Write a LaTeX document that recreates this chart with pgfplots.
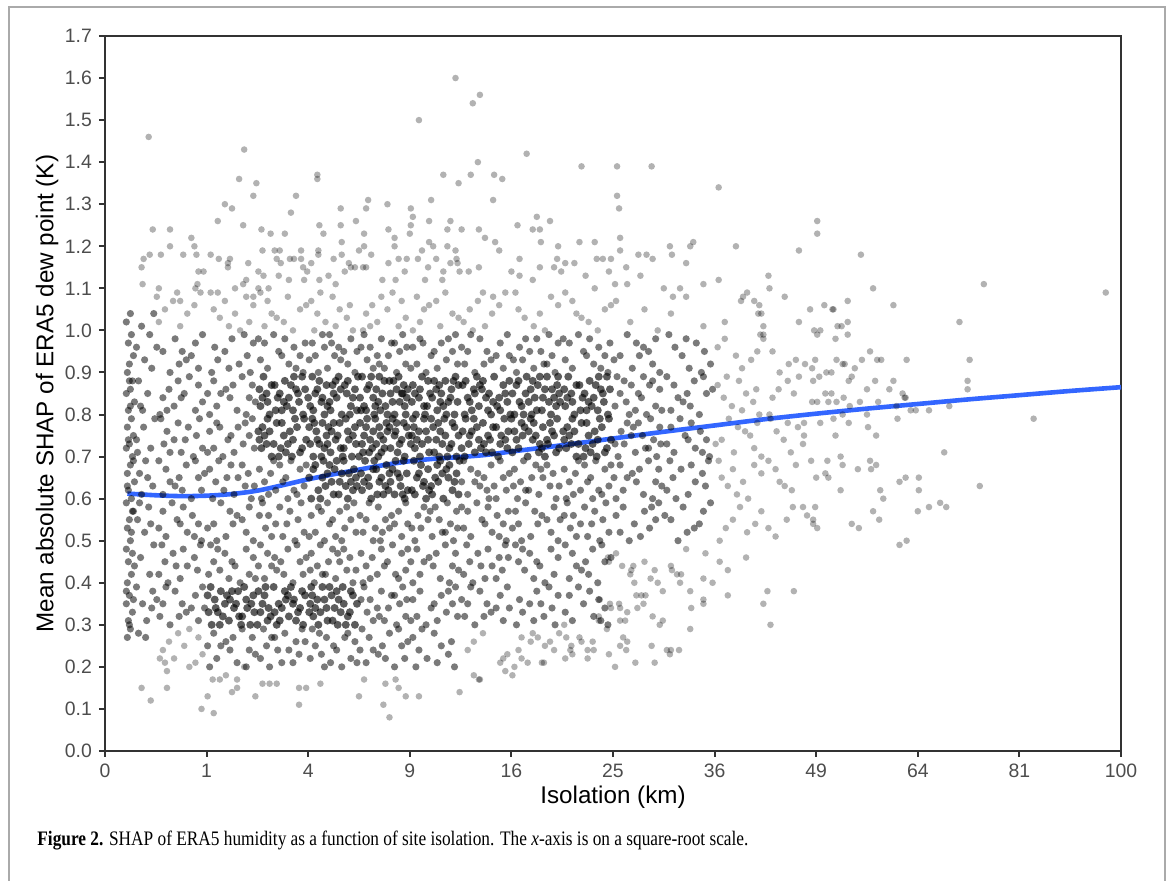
\documentclass[border=0pt]{standalone}
\usepackage{pgfplots}
\pgfplotsset{compat=1.18}
\usepackage{pgfplotstable}
\usepackage{graphicx}
\usepackage{fontspec}
\setmainfont{Liberation Serif}
\setsansfont{Liberation Sans}

\definecolor{axgrey}{HTML}{333333}
\definecolor{tickgrey}{HTML}{4D4D4D}
\definecolor{smoothblue}{HTML}{3366FF}
\definecolor{framegrey}{HTML}{AAAAAA}

% x = sqrt(isolation in km), y = mean |SHAP| (K)
% dense core of the cloud
\pgfplotstableread{
x y
1.46 0.37
1.32 0.32
1.18 0.35
1.05 0.30
1.40 0.34
1.25 0.38
1.11 0.33
1.37 0.39
1.22 0.31
1.08 0.36
1.43 0.30
1.29 0.35
1.14 0.38
1.02 0.33
1.35 0.32
1.20 0.37
1.47 0.33
1.13 0.30
1.27 0.34
1.04 0.39
1.39 0.36
1.16 0.32
1.31 0.38
1.09 0.34
1.44 0.35
1.23 0.36
1.01 0.37
1.34 0.30
1.92 0.34
1.77 0.38
1.60 0.31
1.86 0.36
1.53 0.33
1.71 0.35
1.95 0.30
1.66 0.39
1.81 0.32
1.57 0.37
1.88 0.31
1.74 0.34
1.51 0.38
1.97 0.37
1.63 0.32
1.83 0.39
1.69 0.30
1.55 0.35
1.90 0.33
1.78 0.36
1.61 0.34
1.72 0.31
1.85 0.35
1.50 0.30
1.94 0.38
1.67 0.33
1.80 0.37
1.58 0.39
1.89 0.77
1.73 0.72
1.57 0.75
1.96 0.79
1.80 0.73
1.64 0.70
1.51 0.76
1.85 0.74
1.69 0.78
1.92 0.71
1.76 0.75
1.60 0.79
1.54 0.72
1.98 0.74
1.82 0.76
1.66 0.73
1.71 0.70
1.87 0.79
1.55 0.77
1.78 0.71
1.62 0.76
1.94 0.72
1.52 0.74
1.74 0.78
1.84 0.70
1.59 0.73
1.53 0.82
1.67 0.87
1.81 0.84
1.94 0.89
1.59 0.85
1.74 0.81
1.88 0.86
1.62 0.80
1.77 0.88
1.91 0.83
1.56 0.89
1.70 0.84
1.85 0.81
1.97 0.86
1.64 0.87
1.79 0.82
1.52 0.86
1.86 0.89
1.72 0.85
1.95 0.80
1.60 0.83
1.83 0.87
1.68 0.81
1.90 0.85
1.55 0.84
1.76 0.83
2.39 0.32
2.23 0.37
2.07 0.34
2.46 0.30
2.30 0.36
2.14 0.39
2.01 0.33
2.35 0.35
2.19 0.31
2.42 0.38
2.26 0.34
2.10 0.30
2.04 0.37
2.48 0.35
2.32 0.33
2.16 0.36
2.21 0.39
2.37 0.30
2.05 0.32
2.28 0.38
2.12 0.33
2.44 0.37
2.02 0.35
2.24 0.31
2.34 0.39
2.09 0.36
2.18 0.34
2.41 0.33
2.29 0.30
2.03 0.39
2.10 0.62
2.26 0.67
2.42 0.64
2.03 0.60
2.19 0.66
2.35 0.69
2.48 0.63
2.14 0.65
2.30 0.61
2.07 0.68
2.23 0.64
2.39 0.60
2.45 0.67
2.01 0.65
2.17 0.63
2.33 0.66
2.28 0.69
2.12 0.60
2.44 0.62
2.21 0.68
2.37 0.63
2.05 0.67
2.47 0.65
2.25 0.61
2.15 0.69
2.40 0.66
2.31 0.64
2.46 0.77
2.32 0.72
2.18 0.75
2.05 0.70
2.40 0.74
2.25 0.78
2.11 0.73
2.37 0.79
2.22 0.71
2.08 0.76
2.43 0.70
2.29 0.75
2.14 0.78
2.02 0.73
2.35 0.72
2.20 0.77
2.47 0.73
2.13 0.70
2.27 0.74
2.04 0.79
2.39 0.76
2.16 0.72
2.31 0.78
2.09 0.74
2.44 0.75
2.23 0.76
2.01 0.77
2.34 0.70
2.19 0.73
2.06 0.78
2.07 0.85
2.22 0.81
2.39 0.88
2.13 0.83
2.46 0.86
2.28 0.84
2.04 0.89
2.33 0.80
2.18 0.87
2.42 0.82
2.11 0.88
2.25 0.85
2.48 0.81
2.02 0.82
2.36 0.87
2.16 0.80
2.30 0.89
2.44 0.84
2.09 0.86
2.21 0.83
2.38 0.85
2.27 0.88
2.14 0.84
2.49 0.89
2.05 0.81
2.32 0.86
2.19 0.82
2.41 0.80
2.24 0.87
2.00 0.84
2.53 0.62
2.67 0.67
2.81 0.64
2.94 0.69
2.59 0.65
2.74 0.61
2.88 0.66
2.62 0.60
2.77 0.68
2.91 0.63
2.56 0.69
2.70 0.64
2.85 0.61
2.97 0.66
2.64 0.67
2.79 0.62
2.52 0.66
2.86 0.69
2.72 0.65
2.95 0.60
2.60 0.63
2.83 0.67
2.68 0.61
2.90 0.65
2.55 0.64
2.76 0.63
2.98 0.62
2.65 0.69
2.80 0.66
2.93 0.61
2.92 0.74
2.77 0.78
2.60 0.71
2.86 0.76
2.53 0.73
2.71 0.75
2.95 0.70
2.66 0.79
2.81 0.72
2.57 0.77
2.88 0.71
2.74 0.74
2.51 0.78
2.97 0.77
2.63 0.72
2.83 0.79
2.69 0.70
2.55 0.75
2.90 0.73
2.78 0.76
2.61 0.74
2.72 0.71
2.85 0.75
2.50 0.70
2.94 0.78
2.67 0.73
2.80 0.77
2.58 0.79
2.75 0.72
2.99 0.75
2.64 0.76
2.87 0.78
2.54 0.71
2.70 0.77
2.60 0.87
2.76 0.82
2.92 0.85
2.53 0.89
2.69 0.83
2.85 0.80
2.98 0.86
2.64 0.84
2.80 0.88
2.57 0.81
2.73 0.85
2.89 0.89
2.95 0.82
2.51 0.84
2.67 0.86
2.83 0.83
2.78 0.80
2.62 0.89
2.94 0.87
2.71 0.81
2.87 0.86
2.55 0.82
2.97 0.84
2.75 0.88
2.65 0.80
2.90 0.83
2.81 0.85
2.58 0.86
2.70 0.89
2.96 0.80
2.52 0.81
2.84 0.88
2.66 0.82
2.93 0.85
3.07 0.65
3.22 0.61
3.39 0.68
3.13 0.63
3.46 0.66
3.28 0.64
3.04 0.69
3.33 0.60
3.18 0.67
3.42 0.62
3.11 0.68
3.25 0.65
3.48 0.61
3.02 0.62
3.36 0.67
3.16 0.60
3.30 0.69
3.44 0.64
3.09 0.66
3.21 0.63
3.38 0.65
3.27 0.68
3.14 0.64
3.49 0.69
3.05 0.61
3.32 0.66
3.19 0.62
3.39 0.72
3.23 0.77
3.07 0.74
3.46 0.70
3.30 0.76
3.14 0.79
3.01 0.73
3.35 0.75
3.19 0.71
3.42 0.78
3.26 0.74
3.10 0.70
3.04 0.77
3.48 0.75
3.32 0.73
3.16 0.76
3.21 0.79
3.37 0.70
3.05 0.72
3.28 0.78
3.12 0.73
3.44 0.77
3.02 0.75
3.24 0.71
3.34 0.79
3.09 0.76
3.18 0.74
3.41 0.73
3.29 0.70
3.03 0.79
3.03 0.87
3.17 0.82
3.31 0.85
3.44 0.80
3.09 0.84
3.24 0.88
3.38 0.83
3.12 0.89
3.27 0.81
3.41 0.86
3.06 0.80
3.20 0.85
3.35 0.88
3.47 0.83
3.14 0.82
3.29 0.87
3.02 0.83
3.36 0.80
3.22 0.84
3.45 0.89
3.10 0.86
3.33 0.82
3.18 0.88
3.40 0.84
3.05 0.85
3.26 0.86
3.48 0.87
3.15 0.80
3.30 0.83
3.43 0.88
3.96 0.72
3.82 0.77
3.68 0.74
3.55 0.79
3.90 0.75
3.75 0.71
3.61 0.76
3.87 0.70
3.72 0.78
3.58 0.73
3.93 0.79
3.79 0.74
3.64 0.71
3.52 0.76
3.85 0.77
3.70 0.72
3.97 0.76
3.63 0.79
3.77 0.75
3.54 0.70
3.89 0.73
3.66 0.77
3.81 0.71
3.59 0.75
3.94 0.74
3.73 0.73
3.51 0.72
3.57 0.84
3.72 0.88
3.89 0.81
3.63 0.86
3.96 0.83
3.78 0.85
3.54 0.80
3.83 0.89
3.68 0.82
3.92 0.87
3.61 0.81
3.75 0.84
3.98 0.88
3.52 0.87
3.86 0.82
3.66 0.89
3.80 0.80
3.94 0.85
3.59 0.83
3.71 0.86
3.88 0.84
3.77 0.81
3.64 0.85
3.99 0.80
3.55 0.88
3.82 0.83
3.69 0.87
4.42 0.75
4.27 0.71
4.10 0.78
4.36 0.73
4.03 0.76
4.21 0.74
4.45 0.79
4.16 0.70
4.31 0.77
4.07 0.72
4.38 0.78
4.24 0.75
4.01 0.71
4.47 0.72
4.13 0.77
4.33 0.70
4.19 0.79
4.05 0.74
4.40 0.76
4.28 0.73
4.11 0.75
4.22 0.78
4.35 0.74
4.00 0.79
4.44 0.71
4.17 0.76
4.30 0.72
4.10 0.82
4.26 0.87
4.42 0.84
4.03 0.80
4.19 0.86
4.35 0.89
4.48 0.83
4.14 0.85
4.30 0.81
4.07 0.88
4.23 0.84
4.39 0.80
4.45 0.87
4.01 0.85
4.17 0.83
4.33 0.86
4.28 0.89
4.12 0.80
4.44 0.82
4.21 0.88
4.37 0.83
4.05 0.87
4.47 0.85
4.25 0.81
4.15 0.89
4.40 0.86
4.31 0.84
4.08 0.83
4.20 0.80
4.46 0.89
4.89 0.77
4.73 0.72
4.57 0.75
4.96 0.79
4.80 0.73
4.64 0.70
4.51 0.76
4.85 0.74
4.69 0.78
4.92 0.71
4.76 0.75
4.60 0.79
4.54 0.72
4.98 0.74
4.82 0.76
4.66 0.73
4.71 0.70
4.87 0.79
4.55 0.77
4.78 0.71
4.62 0.76
4.94 0.72
4.52 0.74
4.74 0.78
4.84 0.70
4.59 0.73
4.53 0.82
4.67 0.87
4.81 0.84
4.94 0.89
4.59 0.85
4.74 0.81
4.88 0.86
4.62 0.80
4.77 0.88
4.91 0.83
4.56 0.89
4.70 0.84
4.85 0.81
4.97 0.86
4.64 0.87
4.79 0.82
4.52 0.86
4.86 0.89
4.72 0.85
4.95 0.80
4.60 0.83
4.83 0.87
4.68 0.81
4.90 0.85
4.55 0.84
4.76 0.83
}\densepts

% medium-density part of the cloud
\pgfplotstableread{
x y
0.22 0.27
0.25 0.29
0.23 0.31
0.27 0.33
0.21 0.35
0.24 0.37
0.28 0.36
0.22 0.40
0.26 0.42
0.23 0.45
0.29 0.44
0.21 0.48
0.25 0.50
0.27 0.47
0.22 0.53
0.24 0.55
0.28 0.57
0.21 0.59
0.26 0.60
0.23 0.62
0.29 0.64
0.22 0.66
0.25 0.68
0.27 0.70
0.21 0.72
0.24 0.73
0.28 0.75
0.22 0.77
0.26 0.79
0.23 0.81
0.29 0.83
0.21 0.85
0.25 0.86
0.27 0.88
0.22 0.90
0.24 0.92
0.28 0.94
0.23 0.97
0.26 0.99
0.21 1.02
0.25 1.04
0.24 0.30
0.26 0.52
0.22 0.63
0.28 0.69
0.23 0.74
0.25 0.82
0.21 0.38
0.27 0.57
0.24 0.88
0.33 0.28
0.41 0.31
0.37 0.35
0.46 0.34
0.31 0.39
0.44 0.42
0.35 0.46
0.48 0.49
0.39 0.52
0.32 0.55
0.43 0.58
0.36 0.61
0.47 0.63
0.34 0.66
0.40 0.69
0.45 0.72
0.31 0.74
0.38 0.77
0.49 0.79
0.35 0.82
0.42 0.85
0.33 0.88
0.46 0.91
0.39 0.93
0.31 0.96
0.44 0.99
0.36 1.01
0.48 1.04
0.40 0.27
0.34 0.59
0.47 0.38
0.42 0.65
0.37 0.81
0.45 0.54
0.32 0.71
0.53 0.42
0.67 0.47
0.81 0.44
0.94 0.49
0.59 0.45
0.74 0.41
0.88 0.46
0.62 0.40
0.77 0.48
0.91 0.43
0.56 0.49
0.70 0.44
0.92 0.54
0.77 0.58
0.60 0.51
0.86 0.56
0.53 0.53
0.71 0.55
0.95 0.50
0.66 0.59
0.81 0.52
0.57 0.57
0.88 0.51
0.74 0.54
0.60 0.67
0.76 0.62
0.92 0.65
0.53 0.69
0.69 0.63
0.85 0.60
0.98 0.66
0.64 0.64
0.80 0.68
0.57 0.61
0.73 0.65
0.89 0.69
0.95 0.62
0.96 0.72
0.82 0.77
0.68 0.74
0.55 0.79
0.90 0.75
0.75 0.71
0.61 0.76
0.87 0.70
0.72 0.78
0.58 0.73
0.93 0.79
0.79 0.74
0.64 0.71
0.57 0.84
0.72 0.88
0.89 0.81
0.63 0.86
0.96 0.83
0.78 0.85
0.54 0.80
0.83 0.89
0.68 0.82
0.92 0.87
0.61 0.81
0.75 0.84
0.89 0.97
0.73 0.92
0.57 0.95
0.96 0.99
0.80 0.93
0.64 0.90
0.51 0.96
0.85 0.94
0.69 0.98
0.92 0.91
0.76 0.95
0.89 0.37
0.73 0.32
0.57 0.35
0.96 0.39
0.80 0.33
0.64 0.30
0.51 0.36
0.85 0.34
0.69 0.38
0.92 0.31
0.76 0.35
0.60 0.39
0.54 0.32
0.98 0.34
1.10 0.22
1.26 0.27
1.42 0.24
1.03 0.20
1.19 0.26
1.35 0.29
1.48 0.23
1.14 0.25
1.30 0.21
1.07 0.28
1.23 0.24
1.39 0.20
1.45 0.27
1.01 0.25
1.07 0.45
1.22 0.41
1.39 0.48
1.13 0.43
1.46 0.46
1.28 0.44
1.04 0.49
1.33 0.40
1.18 0.47
1.42 0.42
1.11 0.48
1.25 0.45
1.48 0.41
1.02 0.42
1.39 0.52
1.23 0.57
1.07 0.54
1.46 0.50
1.30 0.56
1.14 0.59
1.01 0.53
1.35 0.55
1.19 0.51
1.42 0.58
1.26 0.54
1.10 0.50
1.03 0.67
1.17 0.62
1.31 0.65
1.44 0.60
1.09 0.64
1.24 0.68
1.38 0.63
1.12 0.69
1.27 0.61
1.41 0.66
1.06 0.60
1.20 0.65
1.35 0.68
1.47 0.63
1.42 0.75
1.27 0.71
1.10 0.78
1.36 0.73
1.03 0.76
1.21 0.74
1.45 0.79
1.16 0.70
1.31 0.77
1.07 0.72
1.38 0.78
1.24 0.75
1.01 0.71
1.47 0.72
1.13 0.77
1.10 0.82
1.26 0.87
1.42 0.84
1.03 0.80
1.19 0.86
1.35 0.89
1.48 0.83
1.14 0.85
1.30 0.81
1.07 0.88
1.23 0.84
1.39 0.80
1.45 0.87
1.01 0.85
1.46 0.97
1.32 0.92
1.18 0.95
1.05 0.90
1.40 0.94
1.25 0.98
1.11 0.93
1.37 0.99
1.22 0.91
1.08 0.96
1.43 0.90
1.53 0.22
1.67 0.27
1.81 0.24
1.94 0.29
1.59 0.25
1.74 0.21
1.88 0.26
1.62 0.20
1.77 0.28
1.91 0.23
1.56 0.29
1.70 0.24
1.85 0.21
1.97 0.26
1.64 0.27
1.60 0.47
1.76 0.42
1.92 0.45
1.53 0.49
1.69 0.43
1.85 0.40
1.98 0.46
1.64 0.44
1.80 0.48
1.57 0.41
1.73 0.45
1.89 0.49
1.95 0.42
1.51 0.44
1.67 0.46
1.96 0.52
1.82 0.57
1.68 0.54
1.55 0.59
1.90 0.55
1.75 0.51
1.61 0.56
1.87 0.50
1.72 0.58
1.58 0.53
1.93 0.59
1.79 0.54
1.64 0.51
1.52 0.56
1.57 0.64
1.72 0.68
1.89 0.61
1.63 0.66
1.96 0.63
1.78 0.65
1.54 0.60
1.83 0.69
1.68 0.62
1.92 0.67
1.61 0.61
1.75 0.64
1.98 0.68
1.52 0.67
1.86 0.62
1.66 0.69
1.80 0.60
1.92 0.94
1.77 0.98
1.60 0.91
1.86 0.96
1.53 0.93
1.71 0.95
1.95 0.90
1.66 0.99
1.81 0.92
1.57 0.97
1.88 0.91
1.74 0.94
1.51 0.98
1.97 0.97
2.07 0.25
2.22 0.21
2.39 0.28
2.13 0.23
2.46 0.26
2.28 0.24
2.04 0.29
2.33 0.20
2.18 0.27
2.42 0.22
2.11 0.28
2.25 0.25
2.48 0.21
2.02 0.22
2.36 0.27
2.16 0.20
2.03 0.47
2.17 0.42
2.31 0.45
2.44 0.40
2.09 0.44
2.24 0.48
2.38 0.43
2.12 0.49
2.27 0.41
2.41 0.46
2.06 0.40
2.20 0.45
2.35 0.48
2.47 0.43
2.14 0.42
2.29 0.47
2.02 0.43
2.42 0.55
2.27 0.51
2.10 0.58
2.36 0.53
2.03 0.56
2.21 0.54
2.45 0.59
2.16 0.50
2.31 0.57
2.07 0.52
2.38 0.58
2.24 0.55
2.01 0.51
2.47 0.52
2.13 0.57
2.33 0.50
2.19 0.59
2.39 0.92
2.23 0.97
2.07 0.94
2.46 0.90
2.30 0.96
2.14 0.99
2.01 0.93
2.35 0.95
2.19 0.91
2.42 0.98
2.26 0.94
2.10 0.90
2.04 0.97
2.48 0.95
2.32 0.93
2.16 0.96
2.21 0.99
2.60 0.27
2.76 0.22
2.92 0.25
2.53 0.29
2.69 0.23
2.85 0.20
2.98 0.26
2.64 0.24
2.80 0.28
2.57 0.21
2.73 0.25
2.89 0.29
2.95 0.22
2.51 0.24
2.96 0.32
2.82 0.37
2.68 0.34
2.55 0.39
2.90 0.35
2.75 0.31
2.61 0.36
2.87 0.30
2.72 0.38
2.58 0.33
2.93 0.39
2.79 0.34
2.64 0.31
2.52 0.36
2.85 0.37
2.70 0.32
2.97 0.36
2.57 0.44
2.72 0.48
2.89 0.41
2.63 0.46
2.96 0.43
2.78 0.45
2.54 0.40
2.83 0.49
2.68 0.42
2.92 0.47
2.61 0.41
2.75 0.44
2.98 0.48
2.52 0.47
2.86 0.42
2.89 0.57
2.73 0.52
2.57 0.55
2.96 0.59
2.80 0.53
2.64 0.50
2.51 0.56
2.85 0.54
2.69 0.58
2.92 0.51
2.76 0.55
2.60 0.59
2.54 0.52
2.98 0.54
2.82 0.56
2.66 0.53
2.71 0.50
2.96 0.92
2.82 0.97
2.68 0.94
2.55 0.99
2.90 0.95
2.75 0.91
2.61 0.96
2.87 0.90
2.72 0.98
2.58 0.93
2.93 0.99
2.79 0.94
2.64 0.91
2.52 0.96
2.85 0.97
2.70 0.92
2.97 0.96
3.03 0.27
3.17 0.22
3.31 0.25
3.44 0.20
3.09 0.24
3.24 0.28
3.38 0.23
3.12 0.29
3.27 0.21
3.41 0.26
3.06 0.20
3.42 0.35
3.27 0.31
3.10 0.38
3.36 0.33
3.03 0.36
3.21 0.34
3.45 0.39
3.16 0.30
3.31 0.37
3.07 0.32
3.38 0.38
3.24 0.35
3.01 0.31
3.47 0.32
3.10 0.42
3.26 0.47
3.42 0.44
3.03 0.40
3.19 0.46
3.35 0.49
3.48 0.43
3.14 0.45
3.30 0.41
3.07 0.48
3.23 0.44
3.39 0.40
3.45 0.47
3.01 0.45
3.46 0.57
3.32 0.52
3.18 0.55
3.05 0.50
3.40 0.54
3.25 0.58
3.11 0.53
3.37 0.59
3.22 0.51
3.08 0.56
3.43 0.50
3.29 0.55
3.14 0.58
3.02 0.53
3.35 0.52
3.20 0.57
3.47 0.53
3.42 0.95
3.27 0.91
3.10 0.98
3.36 0.93
3.03 0.96
3.21 0.94
3.45 0.99
3.16 0.90
3.31 0.97
3.07 0.92
3.38 0.98
3.24 0.95
3.01 0.91
3.47 0.92
3.13 0.97
3.89 0.37
3.73 0.32
3.57 0.35
3.96 0.39
3.80 0.33
3.64 0.30
3.51 0.36
3.85 0.34
3.69 0.38
3.92 0.31
3.76 0.35
3.60 0.39
3.54 0.32
3.98 0.34
3.53 0.42
3.67 0.47
3.81 0.44
3.94 0.49
3.59 0.45
3.74 0.41
3.88 0.46
3.62 0.40
3.77 0.48
3.91 0.43
3.56 0.49
3.70 0.44
3.85 0.41
3.97 0.46
3.92 0.54
3.77 0.58
3.60 0.51
3.86 0.56
3.53 0.53
3.71 0.55
3.95 0.50
3.66 0.59
3.81 0.52
3.57 0.57
3.88 0.51
3.74 0.54
3.51 0.58
3.97 0.57
3.60 0.67
3.76 0.62
3.92 0.65
3.53 0.69
3.69 0.63
3.85 0.60
3.98 0.66
3.64 0.64
3.80 0.68
3.57 0.61
3.73 0.65
3.89 0.69
3.95 0.62
3.51 0.64
3.67 0.66
3.83 0.63
3.78 0.60
3.89 0.97
3.73 0.92
3.57 0.95
3.96 0.99
3.80 0.93
3.64 0.90
3.51 0.96
3.85 0.94
3.69 0.98
3.92 0.91
3.76 0.95
3.60 0.99
3.54 0.92
3.98 0.94
4.46 0.37
4.32 0.32
4.18 0.35
4.05 0.30
4.40 0.34
4.25 0.38
4.11 0.33
4.37 0.39
4.22 0.31
4.08 0.36
4.43 0.30
4.29 0.35
4.07 0.45
4.22 0.41
4.39 0.48
4.13 0.43
4.46 0.46
4.28 0.44
4.04 0.49
4.33 0.40
4.18 0.47
4.42 0.42
4.11 0.48
4.25 0.45
4.39 0.52
4.23 0.57
4.07 0.54
4.46 0.50
4.30 0.56
4.14 0.59
4.01 0.53
4.35 0.55
4.19 0.51
4.42 0.58
4.26 0.54
4.10 0.50
4.04 0.57
4.48 0.55
4.03 0.67
4.17 0.62
4.31 0.65
4.44 0.60
4.09 0.64
4.24 0.68
4.38 0.63
4.12 0.69
4.27 0.61
4.41 0.66
4.06 0.60
4.20 0.65
4.35 0.68
4.47 0.63
4.14 0.62
4.29 0.67
4.02 0.63
4.46 0.97
4.32 0.92
4.18 0.95
4.05 0.90
4.40 0.94
4.25 0.98
4.11 0.93
4.37 0.99
4.22 0.91
4.08 0.96
4.43 0.90
4.29 0.95
4.14 0.98
4.02 0.93
4.35 0.92
4.92 0.34
4.77 0.38
4.60 0.31
4.86 0.36
4.53 0.33
4.71 0.35
4.95 0.30
4.66 0.39
4.81 0.32
4.57 0.37
4.88 0.31
4.60 0.47
4.76 0.42
4.92 0.45
4.53 0.49
4.69 0.43
4.85 0.40
4.98 0.46
4.64 0.44
4.80 0.48
4.57 0.41
4.73 0.45
4.89 0.49
4.96 0.52
4.82 0.57
4.68 0.54
4.55 0.59
4.90 0.55
4.75 0.51
4.61 0.56
4.87 0.50
4.72 0.58
4.58 0.53
4.93 0.59
4.79 0.54
4.64 0.51
4.52 0.56
4.57 0.64
4.72 0.68
4.89 0.61
4.63 0.66
4.96 0.63
4.78 0.65
4.54 0.60
4.83 0.69
4.68 0.62
4.92 0.67
4.61 0.61
4.75 0.64
4.98 0.68
4.52 0.67
4.86 0.62
4.66 0.69
4.80 0.60
4.92 0.94
4.77 0.98
4.60 0.91
4.86 0.96
4.53 0.93
4.71 0.95
4.95 0.90
4.66 0.99
4.81 0.92
4.57 0.97
4.88 0.91
4.74 0.94
4.51 0.98
4.97 0.97
5.42 0.55
5.27 0.51
5.10 0.58
5.36 0.53
5.03 0.56
5.21 0.54
5.45 0.59
5.16 0.50
5.31 0.57
5.07 0.52
5.38 0.58
5.10 0.62
5.26 0.67
5.42 0.64
5.03 0.60
5.19 0.66
5.35 0.69
5.48 0.63
5.14 0.65
5.30 0.61
5.07 0.68
5.23 0.64
5.39 0.60
5.45 0.67
5.01 0.65
5.46 0.77
5.32 0.72
5.18 0.75
5.05 0.70
5.40 0.74
5.25 0.78
5.11 0.73
5.37 0.79
5.22 0.71
5.08 0.76
5.43 0.70
5.29 0.75
5.14 0.78
5.02 0.73
5.35 0.72
5.20 0.77
5.47 0.73
5.07 0.85
5.22 0.81
5.39 0.88
5.13 0.83
5.46 0.86
5.28 0.84
5.04 0.89
5.33 0.80
5.18 0.87
5.42 0.82
5.11 0.88
5.25 0.85
5.48 0.81
5.02 0.82
5.36 0.87
5.16 0.80
5.30 0.89
5.39 0.92
5.23 0.97
5.07 0.94
5.46 0.90
5.30 0.96
5.14 0.99
5.01 0.93
5.35 0.95
5.19 0.91
5.42 0.98
5.26 0.94
5.89 0.57
5.73 0.52
5.57 0.55
5.96 0.59
5.80 0.53
5.64 0.50
5.51 0.56
5.85 0.54
5.69 0.58
5.53 0.62
5.67 0.67
5.81 0.64
5.94 0.69
5.59 0.65
5.74 0.61
5.88 0.66
5.62 0.60
5.77 0.68
5.91 0.63
5.56 0.69
5.92 0.74
5.77 0.78
5.60 0.71
5.86 0.76
5.53 0.73
5.71 0.75
5.95 0.70
5.66 0.79
5.81 0.72
5.57 0.77
5.88 0.71
5.74 0.74
5.60 0.87
5.76 0.82
5.92 0.85
5.53 0.89
5.69 0.83
5.85 0.80
5.98 0.86
5.64 0.84
5.80 0.88
5.57 0.81
5.73 0.85
5.89 0.89
5.96 0.92
5.82 0.97
5.68 0.94
5.55 0.99
5.90 0.95
5.75 0.91
5.61 0.96
5.87 0.90
5.72 0.98
}\midpts

% sparse outskirts and single points
\pgfplotstableread{
x y
0.57 0.24
0.72 0.28
0.89 0.21
0.63 0.26
0.96 0.23
0.78 0.25
0.54 0.22
0.83 0.29
0.68 0.22
0.92 0.27
0.53 1.02
0.67 1.07
0.81 1.04
0.94 1.09
0.59 1.05
0.74 1.01
0.88 1.06
0.92 1.14
0.77 1.18
1.07 1.05
1.22 1.01
1.39 1.08
1.13 1.03
1.46 1.06
1.28 1.04
1.04 1.09
1.33 1.00
1.18 1.07
1.42 1.02
1.39 1.12
1.23 1.17
1.60 1.07
1.76 1.02
1.92 1.05
1.53 1.09
1.69 1.03
1.85 1.00
1.98 1.06
1.64 1.04
1.80 1.08
1.57 1.01
1.96 1.12
1.82 1.17
2.03 1.07
2.17 1.02
2.31 1.05
2.44 1.00
2.09 1.04
2.24 1.08
2.38 1.03
2.12 1.09
2.27 1.01
2.41 1.06
2.06 1.00
2.57 1.04
2.72 1.08
2.89 1.01
2.63 1.06
2.96 1.03
2.78 1.05
2.54 1.00
2.83 1.09
2.68 1.02
2.92 1.07
2.61 1.01
3.10 1.02
3.26 1.07
3.42 1.04
3.03 1.00
3.19 1.06
3.35 1.09
3.48 1.03
3.14 1.05
3.30 1.01
3.07 1.08
2.42 1.15
2.27 1.11
2.10 1.18
2.89 1.17
2.73 1.12
2.57 1.15
3.46 1.17
3.32 1.12
3.18 1.15
3.57 0.24
3.72 0.28
3.89 0.21
3.63 0.26
3.96 0.23
3.53 1.02
3.67 1.07
3.81 1.04
3.94 1.09
3.59 1.05
3.74 1.01
3.88 1.06
3.62 1.00
4.10 0.22
4.26 0.27
4.42 0.24
4.03 0.20
4.19 0.26
4.07 1.05
4.22 1.01
4.39 1.08
4.13 1.03
4.46 1.06
4.28 1.04
4.04 1.09
4.33 1.00
4.53 0.22
4.67 0.27
4.81 0.24
4.94 0.29
4.59 0.25
4.60 1.07
4.76 1.02
4.92 1.05
4.53 1.09
4.69 1.03
4.85 1.00
4.98 1.06
4.64 1.04
5.07 0.25
5.22 0.21
5.39 0.32
5.23 0.37
5.07 0.34
5.46 0.30
5.03 0.47
5.17 0.42
5.31 0.45
5.44 0.40
5.09 0.44
5.03 1.07
5.17 1.02
5.31 1.05
5.44 1.00
5.57 0.44
5.72 0.48
5.89 0.41
5.57 1.04
5.72 1.08
5.89 1.01
6.46 0.57
6.32 0.52
6.18 0.55
6.05 0.50
6.40 0.54
6.25 0.58
6.11 0.53
6.07 0.65
6.22 0.61
6.39 0.68
6.13 0.63
6.46 0.66
6.28 0.64
6.04 0.69
6.33 0.60
6.18 0.67
6.39 0.72
6.23 0.77
6.07 0.74
6.46 0.70
6.30 0.76
6.14 0.79
6.01 0.73
6.35 0.75
6.19 0.71
6.42 0.78
6.03 0.87
6.17 0.82
6.31 0.85
6.44 0.80
6.09 0.84
6.24 0.88
6.38 0.83
6.12 0.89
6.27 0.81
6.41 0.86
6.42 0.95
6.27 0.91
6.10 0.98
6.36 0.93
6.03 0.96
6.21 0.94
6.45 0.99
6.10 1.02
6.26 1.07
6.77 0.58
6.60 0.51
6.53 0.53
6.71 0.55
6.60 0.67
6.76 0.62
6.53 0.69
6.69 0.63
6.64 0.64
6.80 0.68
6.82 0.77
6.68 0.74
6.55 0.79
6.75 0.71
6.61 0.76
6.72 0.78
6.57 0.84
6.72 0.88
6.63 0.86
6.78 0.85
6.54 0.80
6.83 0.89
6.73 0.92
6.57 0.95
6.80 0.93
6.64 0.90
0.43 1.46
1.37 1.43
3.45 1.60
3.69 1.56
3.62 1.54
3.09 1.50
2.09 1.37
2.09 1.36
1.32 1.36
1.49 1.35
3.33 1.37
3.48 1.35
3.60 1.37
3.67 1.40
3.83 1.37
1.46 1.32
1.88 1.32
2.59 1.31
3.21 1.31
1.18 1.30
1.25 1.29
1.83 1.28
1.11 1.26
1.36 1.25
2.11 1.25
2.32 1.29
2.78 1.30
3.01 1.29
3.82 1.31
0.47 1.24
0.64 1.24
2.47 1.26
3.19 1.26
3.40 1.26
3.68 1.24
2.79 1.24
1.54 1.24
1.63 1.23
1.77 1.23
2.15 1.23
2.55 1.23
3.00 1.23
3.51 1.24
0.85 1.22
0.88 1.20
0.64 1.20
2.85 1.22
3.74 1.22
0.36 1.15
0.38 1.17
0.44 1.18
0.55 1.18
0.37 1.11
0.53 1.10
0.51 1.08
0.71 1.09
0.90 1.18
1.04 1.18
1.12 1.17
1.21 1.16
1.21 1.15
0.97 1.14
0.89 1.10
0.91 1.11
1.11 1.09
0.74 1.07
1.28 1.10
1.36 1.11
1.41 1.16
1.51 1.14
1.56 1.13
1.61 1.10
1.55 1.19
1.67 1.19
1.72 1.19
1.69 1.17
1.73 1.16
1.51 1.10
1.46 1.08
1.71 1.13
1.81 1.12
1.86 1.17
1.93 1.17
1.93 1.19
2.03 1.16
1.95 1.15
1.99 1.14
2.10 1.19
2.11 1.12
2.20 1.13
2.25 1.17
2.32 1.25
2.33 1.21
2.33 1.18
2.36 1.14
2.40 1.16
2.46 1.15
2.54 1.15
2.50 1.19
2.55 1.20
2.62 1.18
2.57 1.29
2.79 1.16
2.86 1.12
2.85 1.20
2.97 1.17
2.95 1.14
3.01 1.25
3.03 1.27
3.08 1.17
3.12 1.19
3.15 1.12
3.19 1.21
3.23 1.20
3.26 1.17
3.37 1.20
3.37 1.24
3.45 1.19
3.40 1.16
3.47 1.16
3.49 1.14
3.58 1.14
3.33 1.14
3.68 1.15
4.15 1.42
4.69 1.39
5.04 1.39
5.38 1.39
6.04 1.34
3.91 1.36
5.04 1.32
5.06 1.29
7.01 1.26
7.01 1.23
4.25 1.27
4.38 1.26
4.06 1.25
4.21 1.24
4.28 1.24
4.29 1.21
4.46 1.20
4.67 1.21
4.82 1.21
5.07 1.22
5.07 1.19
5.56 1.20
5.76 1.20
5.79 1.21
6.21 1.20
6.83 1.19
4.45 1.17
4.84 1.17
4.90 1.17
4.98 1.17
5.25 1.18
5.33 1.18
5.39 1.17
5.58 1.18
5.72 1.16
4.53 1.16
4.62 1.16
4.08 1.17
3.88 1.19
3.84 1.21
6.53 1.13
6.04 1.12
5.89 1.11
5.66 1.10
5.50 1.10
5.59 1.08
6.54 1.10
6.69 1.08
6.32 1.09
6.28 1.08
7.08 1.06
6.94 1.05
6.83 1.02
6.98 1.00
7.04 1.00
6.39 1.07
6.44 1.06
6.43 1.04
6.46 1.04
6.48 1.01
6.48 0.99
6.48 0.98
3.72 1.09
3.82 1.08
4.00 1.14
4.08 1.13
4.21 1.12
4.28 1.15
4.42 1.15
4.49 1.14
4.73 1.13
4.82 1.10
4.96 1.14
5.13 1.15
5.27 1.13
5.14 1.11
5.02 1.11
7.44 1.18
8.65 1.11
9.85 1.09
7.56 1.10
7.31 1.07
7.76 1.06
7.17 1.05
7.16 1.05
7.21 1.01
7.25 1.01
7.31 1.02
7.31 0.99
8.41 1.02
7.01 0.99
7.19 0.98
7.53 0.95
6.89 0.92
6.96 0.91
6.99 0.93
7.20 0.93
7.26 0.92
7.28 0.92
7.38 0.91
7.45 0.93
7.60 0.93
7.64 0.93
7.89 0.93
8.51 0.93
7.10 0.90
7.15 0.90
6.97 0.88
7.03 0.89
7.35 0.89
7.32 0.88
7.58 0.88
7.50 0.86
7.76 0.88
7.72 0.86
7.85 0.85
7.88 0.84
8.49 0.88
8.49 0.86
8.31 0.82
7.09 0.85
7.15 0.85
7.27 0.84
7.20 0.83
7.12 0.83
7.01 0.83
6.96 0.83
7.43 0.83
7.33 0.82
7.26 0.80
7.61 0.83
7.79 0.82
7.87 0.84
7.93 0.81
7.98 0.81
8.11 0.81
7.50 0.80
7.80 0.79
7.17 0.79
7.04 0.78
6.88 0.78
7.32 0.78
7.51 0.77
7.59 0.75
7.19 0.75
6.88 0.75
6.87 0.73
9.14 0.79
8.26 0.71
7.24 0.70
7.26 0.68
7.11 0.69
6.95 0.69
7.41 0.67
7.53 0.69
7.54 0.67
7.59 0.68
7.00 0.65
7.09 0.66
7.12 0.65
7.24 0.62
8.61 0.63
7.82 0.64
7.88 0.65
8.01 0.65
8.01 0.62
7.63 0.62
7.66 0.60
7.56 0.57
7.62 0.55
8.11 0.58
8.00 0.57
8.22 0.59
8.28 0.58
6.87 0.58
6.91 0.56
6.97 0.55
6.99 0.58
7.01 0.53
6.97 0.54
7.35 0.54
7.42 0.53
7.82 0.49
7.89 0.50
4.01 0.18
3.94 0.19
3.69 0.17
5.02 0.20
4.96 0.23
5.41 0.21
5.38 0.25
5.56 0.23
5.53 0.24
5.57 0.24
5.65 0.24
5.76 0.29
5.49 0.31
5.13 0.24
5.14 0.26
5.10 0.27
4.75 0.22
4.75 0.24
4.58 0.24
4.32 0.21
4.16 0.21
3.92 0.22
6.55 0.30
6.48 0.35
6.52 0.38
6.78 0.38
6.31 0.46
6.13 0.37
5.89 0.36
5.89 0.35
5.77 0.34
5.76 0.38
5.98 0.40
6.13 0.43
6.05 0.45
5.91 0.47
5.58 0.43
5.63 0.42
5.66 0.40
5.67 0.42
5.49 0.38
5.21 0.40
5.32 0.37
5.28 0.37
5.30 0.35
5.24 0.34
5.37 0.41
5.41 0.43
5.18 0.43
5.20 0.44
4.95 0.46
4.96 0.45
5.06 0.35
5.07 0.31
5.14 0.33
5.12 0.31
4.97 0.35
4.98 0.34
4.87 0.36
4.86 0.31
4.86 0.32
4.80 0.26
4.69 0.26
4.60 0.23
4.54 0.27
4.47 0.28
4.52 0.30
4.38 0.26
4.33 0.25
4.30 0.21
4.21 0.28
4.10 0.27
4.07 0.24
0.36 0.15
0.45 0.12
0.61 0.15
0.95 0.10
1.07 0.09
1.01 0.13
1.06 0.17
1.13 0.17
1.19 0.18
1.25 0.14
1.30 0.15
1.30 0.17
1.48 0.13
1.55 0.16
1.62 0.16
1.69 0.16
1.91 0.11
1.91 0.15
1.98 0.15
2.12 0.16
2.50 0.13
2.55 0.17
2.74 0.11
2.80 0.08
2.76 0.16
2.86 0.17
2.89 0.15
2.96 0.13
3.09 0.13
3.49 0.14
3.63 0.18
3.68 0.17
0.83 0.20
0.61 0.19
0.59 0.21
1.37 0.20
}\sparsepts

% smoothed trend (blue curve)
\pgfplotstableread{
x y
0.22 0.612
0.50 0.608
0.75 0.606
1.00 0.607
1.25 0.611
1.50 0.619
1.75 0.632
2.00 0.646
2.25 0.658
2.50 0.669
2.75 0.680
3.00 0.689
3.25 0.695
3.50 0.699
3.75 0.704
4.00 0.712
4.50 0.727
5.00 0.743
5.50 0.759
6.00 0.774
6.50 0.789
7.00 0.802
7.50 0.814
8.00 0.825
8.50 0.836
9.00 0.846
9.50 0.856
10.00 0.865
}\trendline

\begin{document}
\begin{tikzpicture}
\useasboundingbox (-52.5pt,-65pt) rectangle (531.5pt,375.5pt);
\draw[framegrey, line width=0.6pt] (-48pt,-80pt) -- (-48pt,372pt) -- (530pt,372pt) -- (530pt,-80pt);
\begin{axis}[
    at={(0pt,0pt)}, anchor=south west,
    scale only axis, width=508pt, height=357.5pt,
    xmin=0, xmax=10, ymin=0, ymax=1.7,
    xtick={0,1,2,3,4,5,6,7,8,9,10},
    xticklabels={0,1,4,9,16,25,36,49,64,81,100},
    ytick={0,0.1,0.2,0.3,0.4,0.5,0.6,0.7,0.8,0.9,1.0,1.1,1.2,1.3,1.4,1.5,1.6,1.7},
    yticklabels={0.0,0.1,0.2,0.3,0.4,0.5,0.6,0.7,0.8,0.9,1.0,1.1,1.2,1.3,1.4,1.5,1.6,1.7},
    xtick pos=bottom, ytick pos=left,
    tick align=outside, major tick length=3pt,
    tick style={axgrey, line width=1pt},
    axis line style={axgrey, line width=1.1pt},
    /pgf/number format/assume math mode=true,
    tick label style={font=\fontsize{9.7}{11}\selectfont\sffamily, text=tickgrey},
    xlabel={Isolation (km)},
    ylabel={Mean absolute SHAP of ERA5 dew point (K)},
    every axis x label/.style={at={(axis description cs:0.5,0)}, yshift=-23pt, anchor=center, font=\fontsize{12.1}{14}\selectfont\sffamily},
    every axis y label/.style={at={(axis description cs:0,0.5)}, xshift=-29pt, rotate=90, anchor=center, font=\fontsize{12.1}{14}\selectfont\sffamily},
]
\addplot[only marks, mark=*, mark size=1.65pt, mark options={fill=black, fill opacity=0.3, draw opacity=0}] table {\sparsepts};
\addplot[only marks, mark=*, mark size=1.8pt, mark options={fill=black, fill opacity=0.52, draw opacity=0}] table {\midpts};
\addplot[only marks, mark=*, mark size=2pt, mark options={fill=black, fill opacity=0.64, draw opacity=0}] table {\densepts};
\addplot[smoothblue, line width=2.3pt, smooth, no markers] table {\trendline};
\end{axis}
\node[anchor=base west, inner sep=0pt] at (-34pt,-47.5pt) {\resizebox{355.5pt}{\height}{\fontsize{10.3}{12}\selectfont\textbf{Figure 2.} SHAP of ERA5 humidity as a function of site isolation. The \textit{x}-axis is on a square-root scale.}};
\end{tikzpicture}
\end{document}
